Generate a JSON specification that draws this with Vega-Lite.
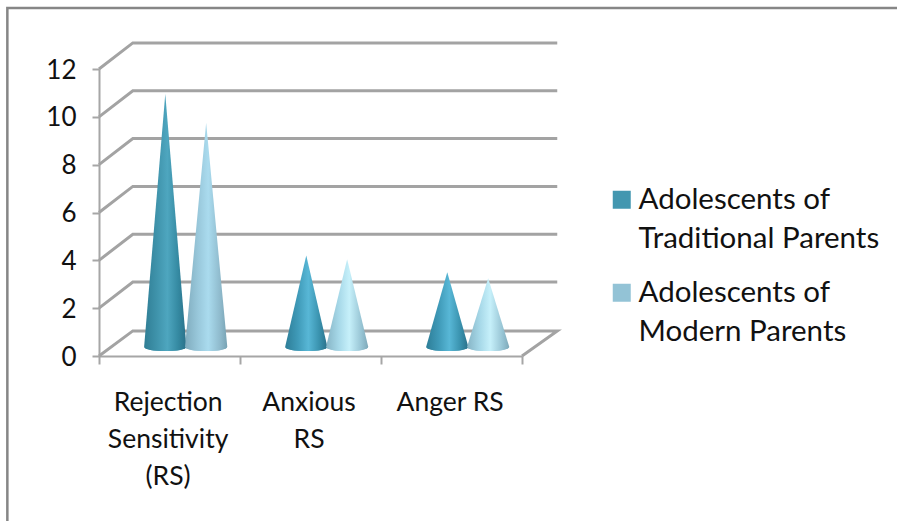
{
  "$schema": "https://vega.github.io/schema/vega-lite/v6.json",
  "width": 423,
  "height": 287,
  "autosize": {"type": "none"},
  "padding": {"left": 99, "top": 69, "right": 375, "bottom": 165},
  "background": "white",
  "view": {"stroke": null},
  "config": {"font": "Lato"},
  "datasets": {
    "cones": [
      {"cone": "A1", "group": "AT", "series": "Adolescents of Traditional Parents", "category": "Rejection Sensitivity (RS)", "x": 0.32, "y": 0.38, "y2": 0.38},
      {"cone": "A1", "group": "AT", "series": "Adolescents of Traditional Parents", "category": "Rejection Sensitivity (RS)", "x": 0.47, "y": 10.95, "y2": 0.38},
      {"cone": "A1", "group": "AT", "series": "Adolescents of Traditional Parents", "category": "Rejection Sensitivity (RS)", "x": 0.62, "y": 0.38, "y2": 0.38},
      {"cone": "B1", "group": "BT", "series": "Adolescents of Modern Parents", "category": "Rejection Sensitivity (RS)", "x": 0.61, "y": 0.38, "y2": 0.38},
      {"cone": "B1", "group": "BT", "series": "Adolescents of Modern Parents", "category": "Rejection Sensitivity (RS)", "x": 0.76, "y": 9.75, "y2": 0.38},
      {"cone": "B1", "group": "BT", "series": "Adolescents of Modern Parents", "category": "Rejection Sensitivity (RS)", "x": 0.91, "y": 0.38, "y2": 0.38},
      {"cone": "A2", "group": "AS", "series": "Adolescents of Traditional Parents", "category": "Anxious RS", "x": 1.32, "y": 0.38, "y2": 0.38},
      {"cone": "A2", "group": "AS", "series": "Adolescents of Traditional Parents", "category": "Anxious RS", "x": 1.47, "y": 4.2, "y2": 0.38},
      {"cone": "A2", "group": "AS", "series": "Adolescents of Traditional Parents", "category": "Anxious RS", "x": 1.62, "y": 0.38, "y2": 0.38},
      {"cone": "B2", "group": "BS", "series": "Adolescents of Modern Parents", "category": "Anxious RS", "x": 1.61, "y": 0.38, "y2": 0.38},
      {"cone": "B2", "group": "BS", "series": "Adolescents of Modern Parents", "category": "Anxious RS", "x": 1.76, "y": 4.05, "y2": 0.38},
      {"cone": "B2", "group": "BS", "series": "Adolescents of Modern Parents", "category": "Anxious RS", "x": 1.91, "y": 0.38, "y2": 0.38},
      {"cone": "A3", "group": "AS", "series": "Adolescents of Traditional Parents", "category": "Anger RS", "x": 2.32, "y": 0.38, "y2": 0.38},
      {"cone": "A3", "group": "AS", "series": "Adolescents of Traditional Parents", "category": "Anger RS", "x": 2.47, "y": 3.5, "y2": 0.38},
      {"cone": "A3", "group": "AS", "series": "Adolescents of Traditional Parents", "category": "Anger RS", "x": 2.62, "y": 0.38, "y2": 0.38},
      {"cone": "B3", "group": "BS", "series": "Adolescents of Modern Parents", "category": "Anger RS", "x": 2.61, "y": 0.38, "y2": 0.38},
      {"cone": "B3", "group": "BS", "series": "Adolescents of Modern Parents", "category": "Anger RS", "x": 2.76, "y": 3.25, "y2": 0.38},
      {"cone": "B3", "group": "BS", "series": "Adolescents of Modern Parents", "category": "Anger RS", "x": 2.91, "y": 0.38, "y2": 0.38}
    ],
    "bases": [
      {"group": "AT", "series": "Adolescents of Traditional Parents", "x": 0.47, "y": 0.38},
      {"group": "BT", "series": "Adolescents of Modern Parents", "x": 0.76, "y": 0.38},
      {"group": "AS", "series": "Adolescents of Traditional Parents", "x": 1.47, "y": 0.38},
      {"group": "BS", "series": "Adolescents of Modern Parents", "x": 1.76, "y": 0.38},
      {"group": "AS", "series": "Adolescents of Traditional Parents", "x": 2.47, "y": 0.38},
      {"group": "BS", "series": "Adolescents of Modern Parents", "x": 2.76, "y": 0.38}
    ],
    "wall": [
      {"g": 0, "i": 0, "x": 0, "y": 0}, {"g": 0, "i": 1, "x": 0.24, "y": 1.05}, {"g": 0, "i": 2, "x": 3.25, "y": 1.05}, {"g": 0, "i": 3, "x": 3, "y": 0},
      {"g": 2, "i": 0, "x": 0, "y": 2}, {"g": 2, "i": 1, "x": 0.24, "y": 3.09}, {"g": 2, "i": 2, "x": 3.25, "y": 3.09},
      {"g": 4, "i": 0, "x": 0, "y": 4}, {"g": 4, "i": 1, "x": 0.24, "y": 5.09}, {"g": 4, "i": 2, "x": 3.25, "y": 5.09},
      {"g": 6, "i": 0, "x": 0, "y": 6}, {"g": 6, "i": 1, "x": 0.24, "y": 7.09}, {"g": 6, "i": 2, "x": 3.25, "y": 7.09},
      {"g": 8, "i": 0, "x": 0, "y": 8}, {"g": 8, "i": 1, "x": 0.24, "y": 9.09}, {"g": 8, "i": 2, "x": 3.25, "y": 9.09},
      {"g": 10, "i": 0, "x": 0, "y": 10}, {"g": 10, "i": 1, "x": 0.24, "y": 11.09}, {"g": 10, "i": 2, "x": 3.25, "y": 11.09},
      {"g": 12, "i": 0, "x": 0, "y": 12}, {"g": 12, "i": 1, "x": 0.24, "y": 13.09}, {"g": 12, "i": 2, "x": 3.25, "y": 13.09}
    ],
    "frame": [
      {"i": 0, "x": -0.65, "y": -7},
      {"i": 1, "x": -0.65, "y": 14.55},
      {"i": 2, "x": 5.66, "y": 14.55}
    ],
    "labels": [
      {"category": "Rejection\nSensitivity\n(RS)", "x": 0.49, "y": -1.98},
      {"category": "Anxious\nRS", "x": 1.49, "y": -1.98},
      {"category": "Anger RS", "x": 2.49, "y": -1.98}
    ]
  },
  "layer": [
    {
      "data": {"name": "frame"},
      "mark": {"type": "line", "stroke": "#868686", "strokeWidth": 2.5, "clip": false},
      "encoding": {
        "x": {"field": "x", "type": "quantitative", "scale": {"domain": [0, 3], "nice": false, "zero": false}, "axis": {"values": [0, 1, 2, 3], "title": null, "labels": false, "grid": false, "domainColor": "#a6a6a6", "domainWidth": 2, "tickColor": "#a6a6a6", "tickWidth": 2, "tickSize": 8}},
        "y": {"field": "y", "type": "quantitative", "scale": {"domain": [0, 12], "nice": false, "zero": false}, "axis": {"values": [0, 2, 4, 6, 8, 10, 12], "title": null, "grid": false, "domainColor": "#a6a6a6", "domainWidth": 2, "tickColor": "#a6a6a6", "tickWidth": 2, "tickSize": 7, "labelFontSize": 26, "labelFont": "Lato", "labelColor": "#111111", "labelPadding": 16, "labelOffset": 1, "format": "d"}},
        "order": {"field": "i", "type": "quantitative"}
      }
    },
    {
      "data": {"name": "wall"},
      "mark": {"type": "line", "stroke": "#a3a3a3", "strokeWidth": 3, "clip": false},
      "encoding": {
        "x": {"field": "x", "type": "quantitative"},
        "y": {"field": "y", "type": "quantitative"},
        "detail": {"field": "g"},
        "order": {"field": "i", "type": "quantitative"}
      }
    },
    {
      "data": {"name": "bases"},
      "mark": {"type": "point", "filled": true, "opacity": 1, "clip": false, "shape": "M -1 0 A 1 0.2 0 0 0 1 0 Z", "size": 1764},
      "encoding": {
        "x": {"field": "x", "type": "quantitative"},
        "y": {"field": "y", "type": "quantitative"},
        "color": {
          "field": "series", "type": "nominal",
          "scale": {"domain": ["Adolescents of Traditional Parents", "Adolescents of Modern Parents"], "range": ["#4397b0", "#93c3d6"]},
          "legend": {"title": null, "orient": "none", "legendX": 508, "legendY": 116, "symbolType": "square", "symbolSize": 324, "symbolOpacity": 1, "labelFontSize": 29.5, "labelFont": "Lato", "labelColor": "#111111", "labelLimit": 300, "rowPadding": 23, "labelOffset": 2, "labelExpr": "datum.label === 'Adolescents of Traditional Parents' ? ['Adolescents of', 'Traditional Parents'] : ['Adolescents of', 'Modern Parents']", "encoding": {"labels": {"lineHeight": {"value": 39}}}}
        }
      }
    },
    {
      "data": {"name": "bases"},
      "transform": [{"filter": "datum.group === 'AT'"}],
      "mark": {"type": "point", "filled": true, "opacity": 1, "clip": false, "shape": "M -1 0 A 1 0.2 0 0 0 1 0 Z", "size": 1764, "fill": {"gradient": "linear", "x1": 0, "y1": 0, "x2": 1, "y2": 0, "stops": [{"offset": 0, "color": "#2f7d94"}, {"offset": 0.3, "color": "#3f93ab"}, {"offset": 0.55, "color": "#4ea6bf"}, {"offset": 0.8, "color": "#358aa2"}, {"offset": 1, "color": "#2a7089"}]}},
      "encoding": {"x": {"field": "x", "type": "quantitative"}, "y": {"field": "y", "type": "quantitative"}}
    },
    {
      "data": {"name": "bases"},
      "transform": [{"filter": "datum.group === 'BT'"}],
      "mark": {"type": "point", "filled": true, "opacity": 1, "clip": false, "shape": "M -1 0 A 1 0.2 0 0 0 1 0 Z", "size": 1764, "fill": {"gradient": "linear", "x1": 0, "y1": 0, "x2": 1, "y2": 0, "stops": [{"offset": 0, "color": "#7fabbd"}, {"offset": 0.3, "color": "#98c7da"}, {"offset": 0.55, "color": "#aadbee"}, {"offset": 0.85, "color": "#8db8ca"}, {"offset": 1, "color": "#77a2b3"}]}},
      "encoding": {"x": {"field": "x", "type": "quantitative"}, "y": {"field": "y", "type": "quantitative"}}
    },
    {
      "data": {"name": "bases"},
      "transform": [{"filter": "datum.group === 'AS'"}],
      "mark": {"type": "point", "filled": true, "opacity": 1, "clip": false, "shape": "M -1 0 A 1 0.2 0 0 0 1 0 Z", "size": 1764, "fill": {"gradient": "linear", "x1": 0, "y1": 0, "x2": 1, "y2": 0, "stops": [{"offset": 0, "color": "#2d7d97"}, {"offset": 0.3, "color": "#3f9ab8"}, {"offset": 0.55, "color": "#58b7d6"}, {"offset": 0.8, "color": "#3a93af"}, {"offset": 1, "color": "#2a7089"}]}},
      "encoding": {"x": {"field": "x", "type": "quantitative"}, "y": {"field": "y", "type": "quantitative"}}
    },
    {
      "data": {"name": "bases"},
      "transform": [{"filter": "datum.group === 'BS'"}],
      "mark": {"type": "point", "filled": true, "opacity": 1, "clip": false, "shape": "M -1 0 A 1 0.2 0 0 0 1 0 Z", "size": 1764, "fill": {"gradient": "linear", "x1": 0, "y1": 0, "x2": 1, "y2": 0, "stops": [{"offset": 0, "color": "#86b4c5"}, {"offset": 0.3, "color": "#a6d8e8"}, {"offset": 0.55, "color": "#c6f0fa"}, {"offset": 0.85, "color": "#95c2d2"}, {"offset": 1, "color": "#7ea8b8"}]}},
      "encoding": {"x": {"field": "x", "type": "quantitative"}, "y": {"field": "y", "type": "quantitative"}}
    },
    {
      "data": {"name": "cones"},
      "transform": [{"filter": "datum.group === 'AT'"}],
      "mark": {"type": "area", "clip": false, "fill": {"gradient": "linear", "x1": 0, "y1": 0, "x2": 1, "y2": 0, "stops": [{"offset": 0, "color": "#2f7d94"}, {"offset": 0.3, "color": "#3f93ab"}, {"offset": 0.55, "color": "#4ea6bf"}, {"offset": 0.8, "color": "#358aa2"}, {"offset": 1, "color": "#2a7089"}]}},
      "encoding": {"x": {"field": "x", "type": "quantitative"}, "y": {"field": "y", "type": "quantitative"}, "y2": {"field": "y2"}, "detail": {"field": "cone"}}
    },
    {
      "data": {"name": "cones"},
      "transform": [{"filter": "datum.group === 'BT'"}],
      "mark": {"type": "area", "clip": false, "fill": {"gradient": "linear", "x1": 0, "y1": 0, "x2": 1, "y2": 0, "stops": [{"offset": 0, "color": "#7fabbd"}, {"offset": 0.3, "color": "#98c7da"}, {"offset": 0.55, "color": "#aadbee"}, {"offset": 0.85, "color": "#8db8ca"}, {"offset": 1, "color": "#77a2b3"}]}},
      "encoding": {"x": {"field": "x", "type": "quantitative"}, "y": {"field": "y", "type": "quantitative"}, "y2": {"field": "y2"}, "detail": {"field": "cone"}}
    },
    {
      "data": {"name": "cones"},
      "transform": [{"filter": "datum.group === 'AS'"}],
      "mark": {"type": "area", "clip": false, "fill": {"gradient": "linear", "x1": 0, "y1": 0, "x2": 1, "y2": 0, "stops": [{"offset": 0, "color": "#2d7d97"}, {"offset": 0.3, "color": "#3f9ab8"}, {"offset": 0.55, "color": "#58b7d6"}, {"offset": 0.8, "color": "#3a93af"}, {"offset": 1, "color": "#2a7089"}]}},
      "encoding": {"x": {"field": "x", "type": "quantitative"}, "y": {"field": "y", "type": "quantitative"}, "y2": {"field": "y2"}, "detail": {"field": "cone"}}
    },
    {
      "data": {"name": "cones"},
      "transform": [{"filter": "datum.group === 'BS'"}],
      "mark": {"type": "area", "clip": false, "fill": {"gradient": "linear", "x1": 0, "y1": 0, "x2": 1, "y2": 0, "stops": [{"offset": 0, "color": "#86b4c5"}, {"offset": 0.3, "color": "#a6d8e8"}, {"offset": 0.55, "color": "#c6f0fa"}, {"offset": 0.85, "color": "#95c2d2"}, {"offset": 1, "color": "#7ea8b8"}]}},
      "encoding": {"x": {"field": "x", "type": "quantitative"}, "y": {"field": "y", "type": "quantitative"}, "y2": {"field": "y2"}, "detail": {"field": "cone"}}
    },
    {
      "data": {"name": "labels"},
      "mark": {"type": "text", "fontSize": 26.5, "font": "Lato", "color": "#111111", "lineBreak": "\n", "lineHeight": 37, "align": "center", "baseline": "middle", "clip": false},
      "encoding": {
        "x": {"field": "x", "type": "quantitative"},
        "y": {"field": "y", "type": "quantitative"},
        "text": {"field": "category"}
      }
    }
  ]
}
